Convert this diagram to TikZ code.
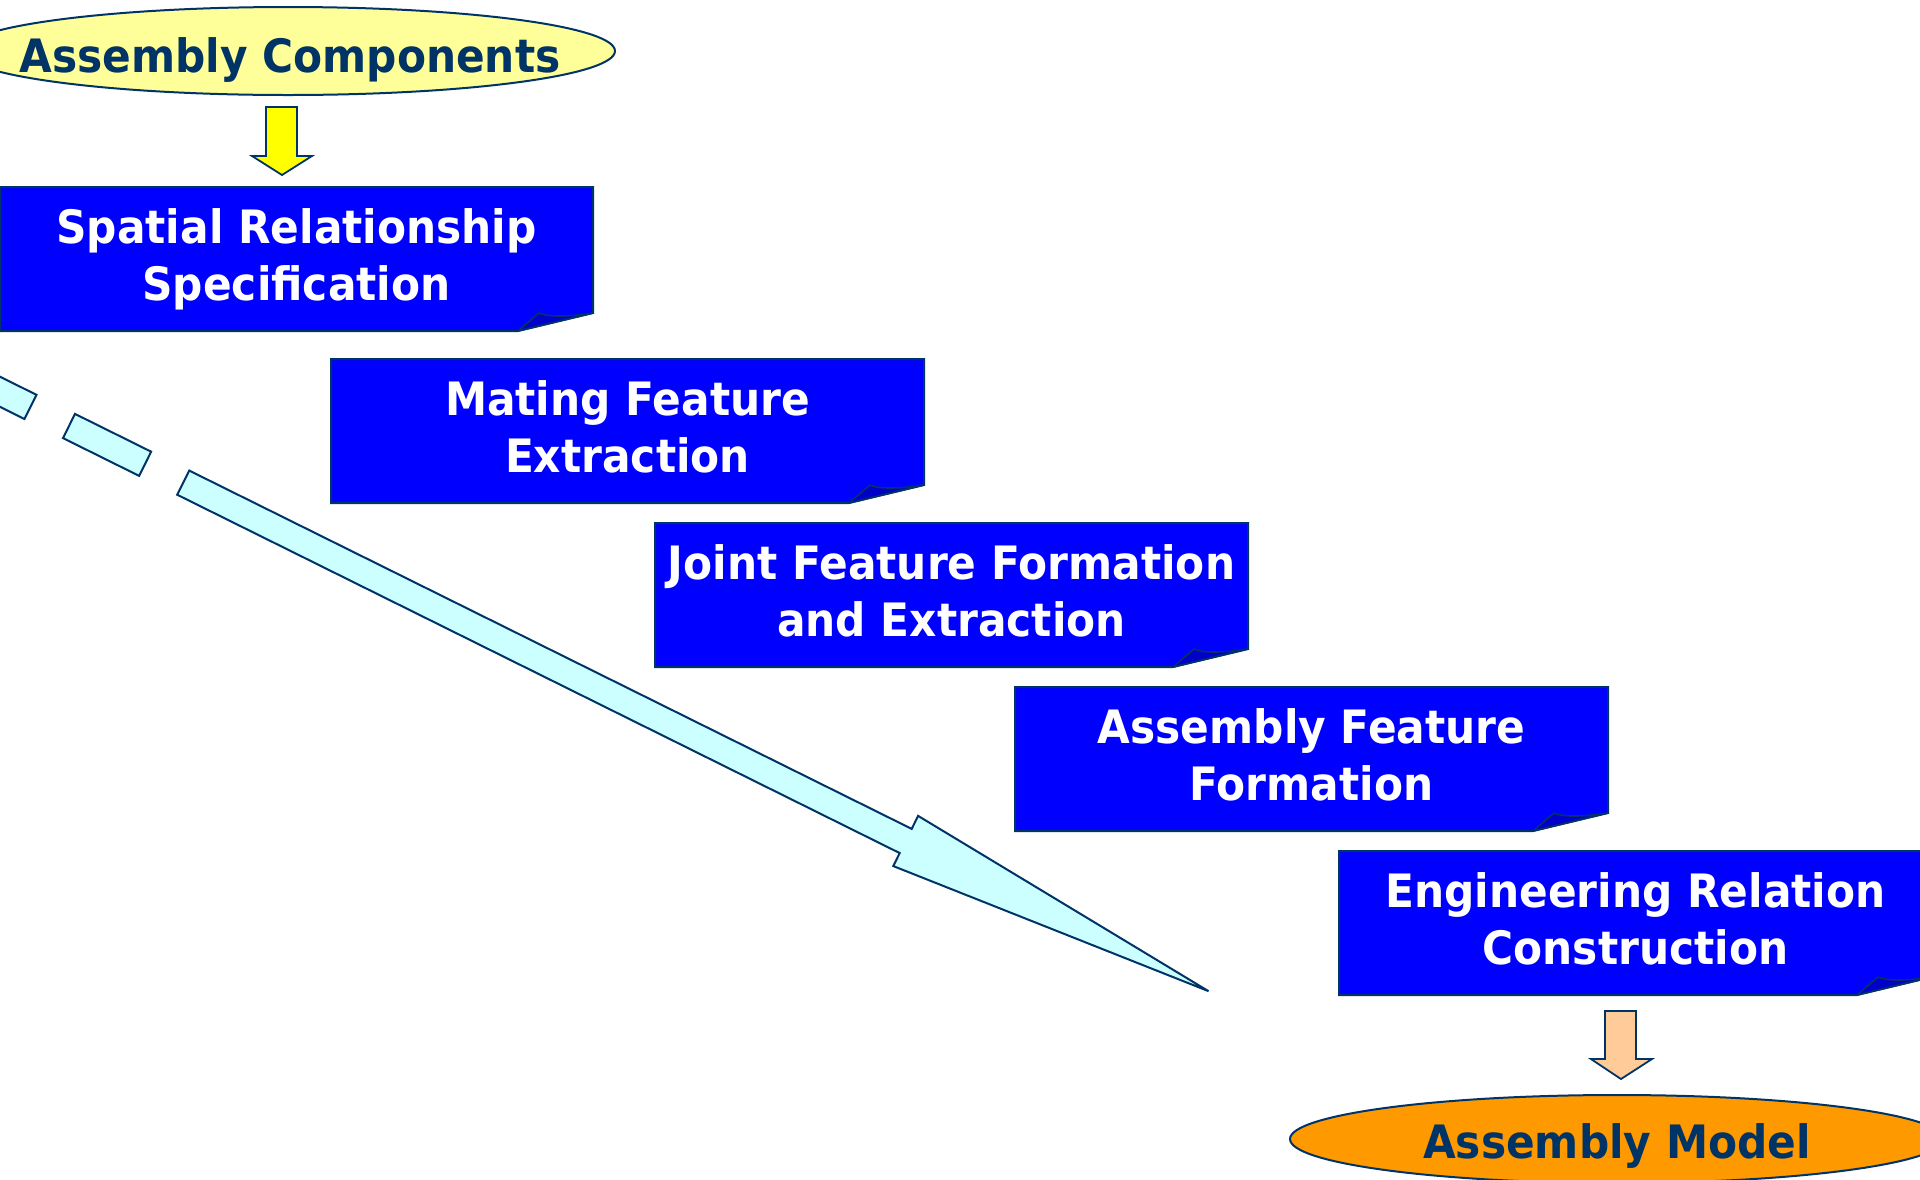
\documentclass[tikz,border=0pt]{standalone}
\usepackage{fontspec}
\setmainfont{DejaVu Sans}[FakeStretch=0.92]
\usetikzlibrary{shapes.geometric}

\definecolor{linenavy}{RGB}{0,51,102}
\definecolor{boxblue}{RGB}{0,0,255}
\definecolor{folddark}{RGB}{0,0,200}
\definecolor{flowcyan}{RGB}{204,255,255}
\definecolor{palelemon}{RGB}{255,255,153}
\definecolor{brightyellow}{RGB}{255,255,0}
\definecolor{peach}{RGB}{255,204,153}
\definecolor{deeporange}{RGB}{255,153,0}

\tikzset{
  outline/.style={draw=linenavy, line width=2pt, line join=miter},
  procbox/.style={outline, fill=boxblue},
  foldflap/.style={draw=linenavy, line width=1.6pt, fill=folddark, line join=round},
  boxtext/.style={text=white, font=\fontsize{46}{57.5}\selectfont\bfseries,
    align=center, inner sep=0pt},
  ovaltext/.style={text=linenavy, font=\fontsize{46}{57.5}\selectfont\bfseries,
    inner sep=0pt},
  oval/.style={ellipse, outline, minimum width=654pt, minimum height=88pt, inner sep=0pt},
  blockarrow/.style={outline, line width=1.8pt},
  flowarrow/.style={outline, fill=flowcyan, line width=2pt},
}

% process box with a turned-up lower right corner: name, left, top, text
% (the text node sits on the baseline of its second line)
\newcommand\flowbox[4]{%
  \path[procbox] (#2,#3) -- (#2+593,#3) -- (#2+593,#3+126) -- (#2+518,#3+144)
    -- (#2,#3+144) -- cycle;
  \path[foldflap] (#2+518,#3+144) -- (#2+539,#3+126)
    .. controls (#2+546,#3+130) and (#2+568,#3+130) .. (#2+593,#3+126) -- cycle;
  \node[boxtext, anchor=base] (#1) at (#2+296.5,#3+113.5) {#4};
}

\begin{document}
\begin{tikzpicture}[x=1pt, y=-1pt]
\useasboundingbox (0,0) rectangle (1920,1179);
\clip (0,0) rectangle (1920,1179);

% long dashed flow arrow running down the staircase
\begin{scope}[shift={(69,426)}, rotate=-26.38]
  \path[flowarrow] (-128,-13.5) rectangle (-43,13.5);
  \path[flowarrow] (0,-13.5) rectangle (85,13.5);
  \path[flowarrow] (127.5,-13.5) -- (934,-13.5) -- (934,-28) -- (1272,0)
    -- (934,28) -- (934,13.5) -- (127.5,13.5) -- cycle;
\end{scope}

% input
\node[oval, fill=palelemon] (comp) at (288,51) {};
\node[ovaltext, anchor=base] (comptext) at (290,72) {Assembly Components};

% process steps
\flowbox{spatial}{0}{187}{Spatial Relationship\\Specification}
\flowbox{mating}{331}{359}{Mating Feature\\Extraction}
\flowbox{joint}{655}{523}{Joint Feature Formation\\and Extraction}
\flowbox{assyfeat}{1015}{687}{Assembly Feature\\Formation}
\flowbox{engrel}{1339}{851}{Engineering Relation\\Construction}

% output
\node[oval, fill=deeporange] (model) at (1617,1139) {};
\node[ovaltext, anchor=base] (modeltext) at (1617,1158) {Assembly Model};

% block arrows into the first step and out of the last one
\path[blockarrow, fill=brightyellow] (266,107) -- (297,107) -- (297,156) -- (312,156)
  -- (282,175) -- (252,156) -- (266,156) -- cycle;
\path[blockarrow, fill=peach] (1605,1011) -- (1636,1011) -- (1636,1059) -- (1652,1059)
  -- (1621,1079) -- (1591,1059) -- (1605,1059) -- cycle;
\end{tikzpicture}
\end{document}
